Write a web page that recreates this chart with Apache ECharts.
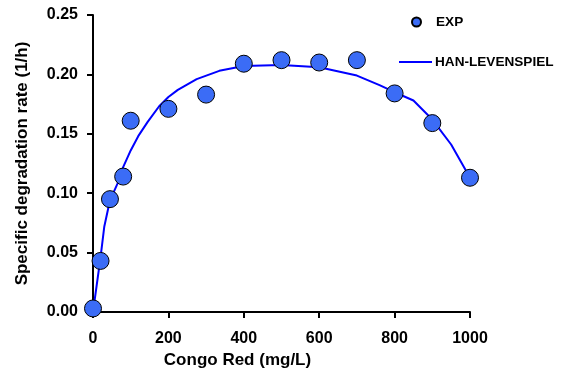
<!DOCTYPE html>
<html>
<head>
<meta charset="utf-8">
<script src="https://cdn.jsdelivr.net/npm/echarts@6/dist/echarts.min.js"></script>
<style>
  html, body { margin: 0; padding: 0; background: #fff; }
  #chart { width: 565px; height: 374px; }
</style>
</head>
<body>
<div id="chart"></div>
<script>
// experimental points
const expX = [0, 20, 45, 80, 100, 200, 300, 400, 500, 600, 700, 800, 900, 1000]
const expY = [0.003, 0.043, 0.095, 0.114, 0.161, 0.171, 0.183, 0.209, 0.212, 0.210, 0.212, 0.184, 0.159, 0.113]

// Han-Levenspiel fitted curve
const fitX = [0, 20, 30, 45, 65, 80, 100, 120, 145, 175, 200, 225, 275, 335, 400, 500, 600, 700, 760, 800, 850, 900, 950, 1000]
const fitY = [0, 0.046, 0.072, 0.094, 0.108, 0.122, 0.136, 0.148, 0.160, 0.173, 0.181, 0.187, 0.196, 0.203, 0.207, 0.208, 0.206, 0.199, 0.191, 0.185, 0.178, 0.162, 0.141, 0.113]

const chart = echarts.init(document.getElementById('chart'))

const font = 'Liberation Sans, Arial, sans-serif'
const legendText = { fontFamily: font, fontWeight: 'bold', fontSize: 13.6, color: '#000' }

const option = {
  backgroundColor: '#fff',
  animation: false,
  textStyle: { fontFamily: font },
  legend: [
    {
      data: [{ name: 'EXP', icon: 'circle' }],
      left: 411,
      top: 15,
      padding: 0,
      itemWidth: 9,
      itemHeight: 9,
      textStyle: { ...legendText, padding: [0, 0, 0, 10] }
    },
    {
      data: [{ name: 'HAN-LEVENSPIEL', icon: 'rect' }],
      left: 399,
      top: 55,
      padding: 0,
      itemWidth: 33,
      itemHeight: 2,
      textStyle: { ...legendText, padding: [0, 0, 0, -2] }
    }
  ],
  grid: { left: 93, right: 95, top: 15, bottom: 62 },
  xAxis: {
    type: 'value',
    min: 0,
    max: 1000,
    interval: 200,
    name: 'Congo Red (mg/L)',
    nameLocation: 'middle',
    nameGap: 37,
    nameTextStyle: { fontFamily: font, fontWeight: 'bold', fontSize: 17, color: '#000', padding: [0, 88, 0, 0] },
    axisLine: { lineStyle: { color: '#000', width: 2 } },
    axisTick: { length: 6, lineStyle: { color: '#000', width: 2 } },
    axisLabel: {
      margin: 19,
      fontFamily: font,
      fontWeight: 'bold',
      fontSize: 16,
      color: '#000',
      formatter: v => String(v)
    },
    splitLine: { show: false }
  },
  yAxis: {
    type: 'value',
    min: 0,
    max: 0.25,
    interval: 0.05,
    name: 'Specific degradation rate (1/h)',
    nameLocation: 'middle',
    nameGap: 62,
    nameTextStyle: { fontFamily: font, fontWeight: 'bold', fontSize: 17, color: '#000' },
    axisLine: { show: true, lineStyle: { color: '#000', width: 2 } },
    axisTick: { show: true, length: 6, lineStyle: { color: '#000', width: 2 } },
    axisLabel: {
      margin: 15,
      fontFamily: font,
      fontWeight: 'bold',
      fontSize: 16,
      color: '#000',
      formatter: v => v.toFixed(2)
    },
    splitLine: { show: false }
  },
  series: [
    {
      name: 'HAN-LEVENSPIEL',
      type: 'line',
      data: fitX.map((x, i) => [x, fitY[i]]),
      symbol: 'none',
      smooth: false,
      lineStyle: { color: '#0000ff', width: 2 },
      itemStyle: { color: '#0000ff' },
      z: 2
    },
    {
      name: 'EXP',
      type: 'scatter',
      data: expX.map((x, i) => [x, expY[i]]),
      symbol: 'circle',
      symbolSize: 17,
      clip: false,
      itemStyle: { color: '#3b6cf6', borderColor: '#000', borderWidth: 1, opacity: 1 },
      z: 3
    }
  ]
}

chart.setOption(option)
</script>
</body>
</html>
